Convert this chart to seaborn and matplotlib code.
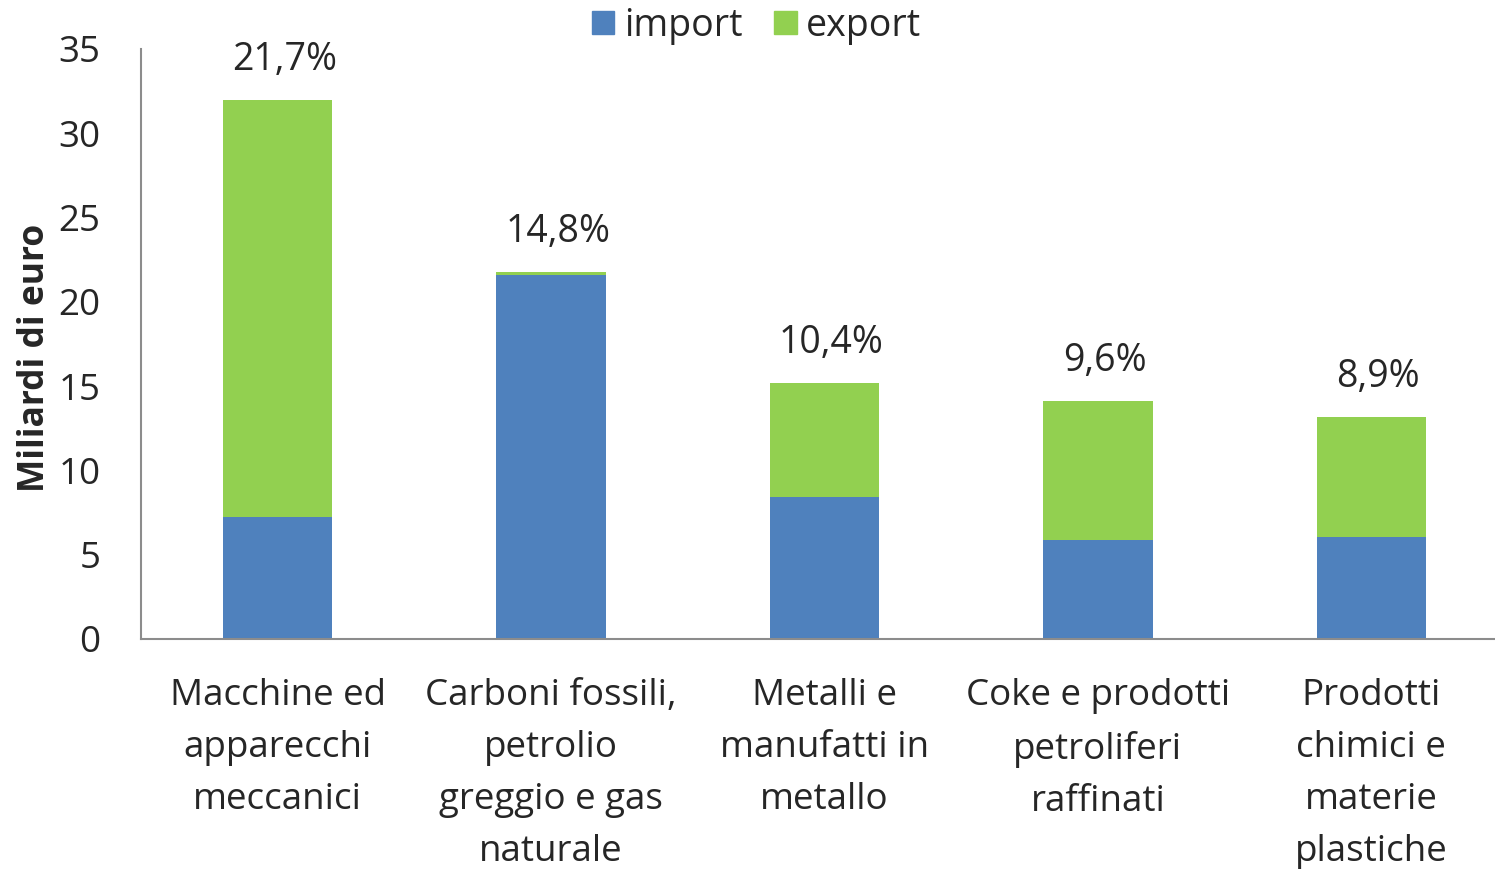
import matplotlib
matplotlib.use("Agg")
import matplotlib.pyplot as plt
import matplotlib.patches as mpatches
import pandas as pd
import seaborn as sns

categorie = [
    "Macchine ed\napparecchi\nmeccanici",
    "Carboni fossili,\npetrolio\ngreggio e gas\nnaturale",
    "Metalli e\nmanufatti in\nmetallo",
    "Coke e prodotti\npetroliferi\nraffinati",
    "Prodotti\nchimici e\nmaterie\nplastiche",
]
import_vals = [7.25, 21.57, 8.42, 5.87, 6.05]
export_vals = [24.72, 0.2, 6.77, 8.25, 7.12]
quote = ["21,7%", "14,8%", "10,4%", "9,6%", "8,9%"]

BLU = "#4F81BD"
VERDE = "#92D050"
GRIGIO = "#8C8C8C"
FS = 26.5


def main():
    df = pd.DataFrame({"categoria": categorie, "import": import_vals, "export": export_vals})
    df["totale"] = df["import"] + df["export"]

    sns.set_style("white")
    plt.rcParams["font.family"] = ["Open Sans", "DejaVu Sans"]

    fig = plt.figure(figsize=(14.95, 8.69), dpi=100)
    ax = fig.add_axes([141 / 1495, 1 - 639 / 869, 1367 / 1495, 590 / 869])

    sns.barplot(data=df, x="categoria", y="totale", color=VERDE, width=0.4,
                saturation=1, linewidth=0, ax=ax)
    sns.barplot(data=df, x="categoria", y="import", color=BLU, width=0.4,
                saturation=1, linewidth=0, ax=ax)

    ax.set_xlim(-0.5, len(categorie) - 0.5)
    ax.set_ylim(0, 35)
    ax.set_yticks(range(0, 36, 5))

    # etichette percentuali sopra le barre
    for i, (tot, q) in enumerate(zip(df["totale"], quote)):
        ax.annotate(q, (i, tot), xytext=(5, 29), textcoords="offset points",
                    ha="center", va="center", fontsize=27)

    sns.despine(ax=ax)
    for s in ["left", "bottom"]:
        ax.spines[s].set_color(GRIGIO)
        ax.spines[s].set_linewidth(1.5)

    ax.set_xticks([i + 0.5 for i in range(-1, len(categorie))], minor=True)
    ax.tick_params(axis="x", which="minor", length=9, width=1.5, color=GRIGIO, direction="out")
    ax.tick_params(axis="x", which="major", length=0, pad=28, labelsize=FS)
    ax.tick_params(axis="y", length=9, width=1.5, color=GRIGIO, direction="out", pad=20, labelsize=FS)
    for t in ax.get_xticklabels():
        t.set_linespacing(1.6)
        t.set_va("top")

    ax.set_xlabel("")
    ax.set_ylabel("Miliardi di euro", fontsize=25.5, fontweight="bold", labelpad=4)
    ax.yaxis.label.set_y(0.477)

    handles = [mpatches.Patch(color=BLU, label="import"),
               mpatches.Patch(color=VERDE, label="export")]
    fig.legend(handles=handles, loc="upper center", bbox_to_anchor=(0.506, 1.031), ncol=2,
               frameon=False, fontsize=27, handlelength=0.6, handleheight=0.6,
               handletextpad=0.25, columnspacing=0.85)

    fig.savefig("out.png", dpi=100)


if __name__ == "__main__":
    main()
